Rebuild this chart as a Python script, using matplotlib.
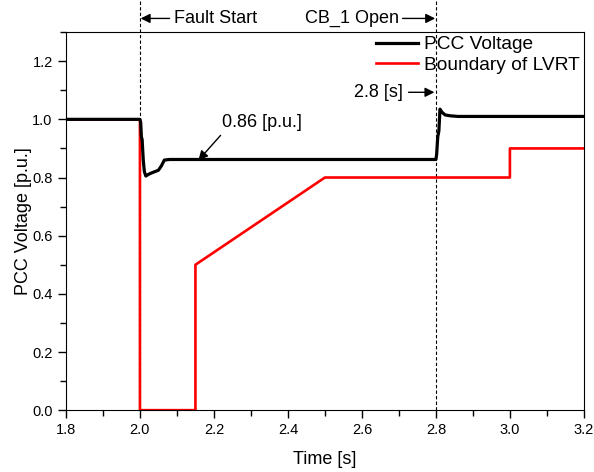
import matplotlib
matplotlib.use('Agg')
import matplotlib.pyplot as plt
from matplotlib.ticker import MultipleLocator

plt.rcParams['font.family'] = ['Liberation Sans', 'DejaVu Sans']

# PCC voltage trace (p.u.)
pcc_t = [1.8, 2.0, 2.002, 2.004, 2.006, 2.009, 2.012, 2.016, 2.022, 2.03, 2.04, 2.05,
         2.058, 2.066, 2.08, 2.8, 2.802, 2.805, 2.808, 2.811, 2.816, 2.825, 2.84, 2.86, 3.2]
pcc_v = [1.0, 1.0, 0.99, 0.94, 0.93, 0.86, 0.82, 0.805, 0.81, 0.815, 0.82, 0.825,
         0.84, 0.86, 0.862, 0.862, 0.88, 0.94, 0.96, 1.035, 1.025, 1.015, 1.012, 1.01, 1.01]

# LVRT boundary
lvrt_t = [1.8, 2.0, 2.0, 2.15, 2.15, 2.5, 3.0, 3.0, 3.2]
lvrt_v = [1.0, 1.0, 0.0, 0.0, 0.5, 0.8, 0.8, 0.9, 0.9]

fault_t = 2.0
cb_t = 2.8

fig = plt.figure(figsize=(5.94, 4.72), dpi=100)
ax = fig.add_axes([0.111, 0.131, 0.872, 0.801])

ax.plot(pcc_t, pcc_v, color='black', lw=2.3, label='PCC Voltage', zorder=3)
ax.plot(lvrt_t, lvrt_v, color='red', lw=1.9, label='Boundary of LVRT', zorder=2)

ax.set_xlim(1.8, 3.2)
ax.set_ylim(0.0, 1.3)
ax.xaxis.set_major_locator(MultipleLocator(0.2))
ax.xaxis.set_minor_locator(MultipleLocator(0.1))
ax.yaxis.set_major_locator(MultipleLocator(0.2))
ax.yaxis.set_minor_locator(MultipleLocator(0.1))
ax.tick_params(which='both', direction='out', labelsize=10.5, width=1)
ax.tick_params(which='major', length=6)
ax.tick_params(which='minor', length=4)
ax.set_xlabel('Time [s]', fontsize=13, labelpad=10)
ax.set_ylabel('PCC Voltage [p.u.]', fontsize=13, labelpad=0.5)

# dashed event lines run up to the top edge of the figure
for t in (fault_t, cb_t):
    ax.plot([t, t], [0.0, 1.41], color='black', lw=0.8, ls=(0, (3, 2)),
            clip_on=False, zorder=1)

arrow = dict(arrowstyle='-|>', color='black', lw=1, mutation_scale=14,
             shrinkA=0, shrinkB=0)
ax.annotate('', xy=(fault_t + 0.002, 1.347), xytext=(fault_t + 0.08, 1.347),
            arrowprops=arrow, annotation_clip=False)
ax.text(fault_t + 0.092, 1.347, 'Fault Start', fontsize=13, va='center', ha='left')
ax.annotate('', xy=(cb_t - 0.002, 1.347), xytext=(cb_t - 0.09, 1.347),
            arrowprops=arrow, annotation_clip=False)
ax.text(cb_t - 0.1, 1.347, 'CB_1 Open', fontsize=13, va='center', ha='right')

ax.annotate('', xy=(cb_t - 0.004, 1.093), xytext=(cb_t - 0.074, 1.093),
            arrowprops=arrow)
ax.text(cb_t - 0.088, 1.093, '2.8 [s]', fontsize=13, va='center', ha='right')

ax.annotate('', xy=(2.158, 0.859), xytext=(2.218, 0.945), arrowprops=arrow)
ax.text(2.222, 0.99, '0.86 [p.u.]', fontsize=13, va='center', ha='left')

ax.legend(loc='upper right', bbox_to_anchor=(1.0, 1.0), frameon=False, fontsize=13.8,
          handlelength=2.2, borderaxespad=0.0, borderpad=0.2, labelspacing=0.15,
          handletextpad=0.3)

fig.savefig('out.png', dpi=100)
